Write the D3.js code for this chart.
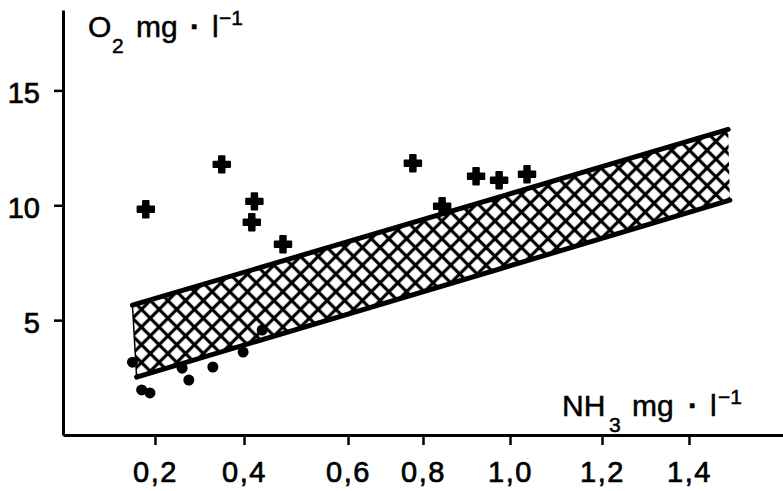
<!DOCTYPE html>
<html>
<head>
<meta charset="utf-8">
<script src="https://cdn.jsdelivr.net/npm/d3@7"></script>
<style>
  html, body { margin: 0; padding: 0; background: #fff; }
  svg { display: block; font-family: "Liberation Sans", Arial, Helvetica, sans-serif; }
</style>
</head>
<body>
<svg id="chart" width="783" height="491"></svg>
<script>
// ---- data ----
const xTickValues = [0.2, 0.4, 0.6, 0.8, 1.0, 1.2, 1.4];
const xTickLabels = ["0,2", "0,4", "0,6", "0,8", "1,0", "1,2", "1,4"];
const yTickValues = [5, 10, 15];
const yTickLabels = ["5", "10", "15"];

// "+" points (NH3, O2)
const plusNH3 = [0.18, 0.35, 0.42, 0.415, 0.475, 0.773, 0.844, 0.922, 0.975, 1.037];
const plusO2  = [9.83, 11.78, 10.17, 9.26, 8.30, 11.83, 9.96, 11.26, 11.09, 11.35];

// filled dots (NH3, O2)
const dotNH3 = [0.151, 0.171, 0.189, 0.261, 0.276, 0.33, 0.398, 0.435];
const dotO2  = [3.17, 1.96, 1.83, 2.91, 2.39, 2.96, 3.61, 4.57];

// hatched band corners
const bandUpperNH3 = [0.151, 1.49];
const bandUpperO2  = [5.65, 13.3];
const bandLowerNH3 = [0.16, 1.494];
const bandLowerO2  = [2.52, 10.22];

// ---- chart ----
const svg = d3.select("#chart");

// hand-drawn axis: tick marks are unevenly spaced, so piecewise-linear scale
const x = d3.scaleLinear()
  .domain([0, 0.2, 0.4, 0.6, 0.8, 1.0, 1.2, 1.4, 1.616])
  .range([63, 155, 244, 348, 423, 510, 602, 689, 783]);
const y = d3.scaleLinear().domain([0, 18.5]).range([435, 10]);

const FONT = "'Liberation Sans', Arial, sans-serif";

// hatch pattern
const defs = svg.append("defs");
const P = 12.5;
const pat = defs.append("pattern")
  .attr("id", "hatch")
  .attr("patternUnits", "userSpaceOnUse")
  .attr("width", P).attr("height", P)
  .attr("patternTransform", "rotate(45)");
pat.append("rect").attr("width", P).attr("height", P).attr("fill", "#fff");
pat.append("line").attr("x1", 0).attr("y1", P / 2).attr("x2", P).attr("y2", P / 2)
  .attr("stroke", "#000").attr("stroke-width", 3.2);
pat.append("line").attr("x1", P / 2).attr("y1", 0).attr("x2", P / 2).attr("y2", P)
  .attr("stroke", "#000").attr("stroke-width", 3.2);

// band
const bandPts = [
  [bandUpperNH3[0], bandUpperO2[0]],
  [bandUpperNH3[1], bandUpperO2[1]],
  [bandLowerNH3[1], bandLowerO2[1]],
  [bandLowerNH3[0], bandLowerO2[0]]
];
const line = d3.line().x(d => x(d[0])).y(d => y(d[1]));
svg.append("path")
  .attr("d", line(bandPts) + "Z")
  .attr("fill", "url(#hatch)")
  .attr("stroke", "none");
svg.append("path")
  .attr("d", line([bandPts[0], bandPts[3]]))
  .attr("fill", "none").attr("stroke", "#000").attr("stroke-width", 1.5);
svg.append("path")
  .attr("d", line([bandPts[0], bandPts[1]]))
  .attr("fill", "none").attr("stroke", "#000").attr("stroke-width", 5)
  .attr("stroke-linecap", "round");
svg.append("path")
  .attr("d", line([bandPts[3], bandPts[2]]))
  .attr("fill", "none").attr("stroke", "#000").attr("stroke-width", 5)
  .attr("stroke-linecap", "round");

// axes
const xAxis = d3.axisBottom(x)
  .tickValues(xTickValues)
  .tickFormat((d, i) => xTickLabels[i])
  .tickSize(10).tickSizeOuter(0).tickPadding(16);
const gx = svg.append("g").attr("transform", `translate(0,${y(0)})`).call(xAxis);
gx.attr("font-size", null).attr("font-family", null);
gx.select(".domain").attr("stroke-width", 3);
gx.selectAll(".tick line").attr("stroke-width", 2.5);
gx.selectAll(".tick text")
  .style("font-size", "29px").style("font-family", FONT)
  .attr("fill", "#000").attr("stroke", "#000").attr("stroke-width", 0.7)
  .attr("letter-spacing", 1.5);

const yAxis = d3.axisLeft(y)
  .tickValues(yTickValues)
  .tickFormat((d, i) => yTickLabels[i])
  .tickSize(9).tickSizeOuter(0).tickPadding(14);
const gy = svg.append("g").attr("transform", `translate(${x(0)},0)`).call(yAxis);
gy.attr("font-size", null).attr("font-family", null);
gy.select(".domain").attr("stroke-width", 3);
gy.selectAll(".tick line").attr("stroke-width", 2.5);
gy.selectAll(".tick text")
  .style("font-size", "29px").style("font-family", FONT)
  .attr("fill", "#000").attr("stroke", "#000").attr("stroke-width", 0.7)
  .attr("dy", "0.42em");

// points: plus
const plusSym = d3.symbol().type(d3.symbolCross).size(150);
svg.append("g").selectAll("path")
  .data(plusNH3.map((v, i) => [v, plusO2[i]]))
  .join("path")
  .attr("d", plusSym)
  .attr("transform", d => `translate(${x(d[0])},${y(d[1])})`)
  .attr("fill", "#000").attr("stroke", "#000").attr("stroke-width", 2)
  .attr("stroke-linejoin", "round");

// points: dots
svg.append("g").selectAll("circle")
  .data(dotNH3.map((v, i) => [v, dotO2[i]]))
  .join("circle")
  .attr("cx", d => x(d[0])).attr("cy", d => y(d[1]))
  .attr("r", 5.5).attr("fill", "#000");

// axis titles (pieces placed individually, as in the hand-lettered original)
function title(pos, yp, main, sub) {
  const g = svg.append("g")
    .style("font-family", FONT)
    .attr("fill", "#000").attr("stroke", "#000").attr("stroke-width", 0.5);
  g.append("text").attr("x", pos[0]).attr("y", yp).style("font-size", "30px").text(main);
  g.append("text").attr("x", pos[1]).attr("y", yp + 16).style("font-size", "21px").text(sub);
  g.append("text").attr("x", pos[2]).attr("y", yp).style("font-size", "30px").text("mg");
  g.append("text").attr("x", pos[3]).attr("y", yp).style("font-size", "30px")
    .style("font-weight", "bold").attr("text-anchor", "middle").text("·");
  g.append("text").attr("x", pos[4]).attr("y", yp).style("font-size", "30px").text("l");
  g.append("text").attr("x", pos[5]).attr("y", yp - 12).style("font-size", "21px").text("−1");
}
title([88, 112, 136, 195, 212, 219], 37, "O", "2");
title([562, 609, 632, 693, 710, 718], 416, "NH", "3");
</script>
</body>
</html>
